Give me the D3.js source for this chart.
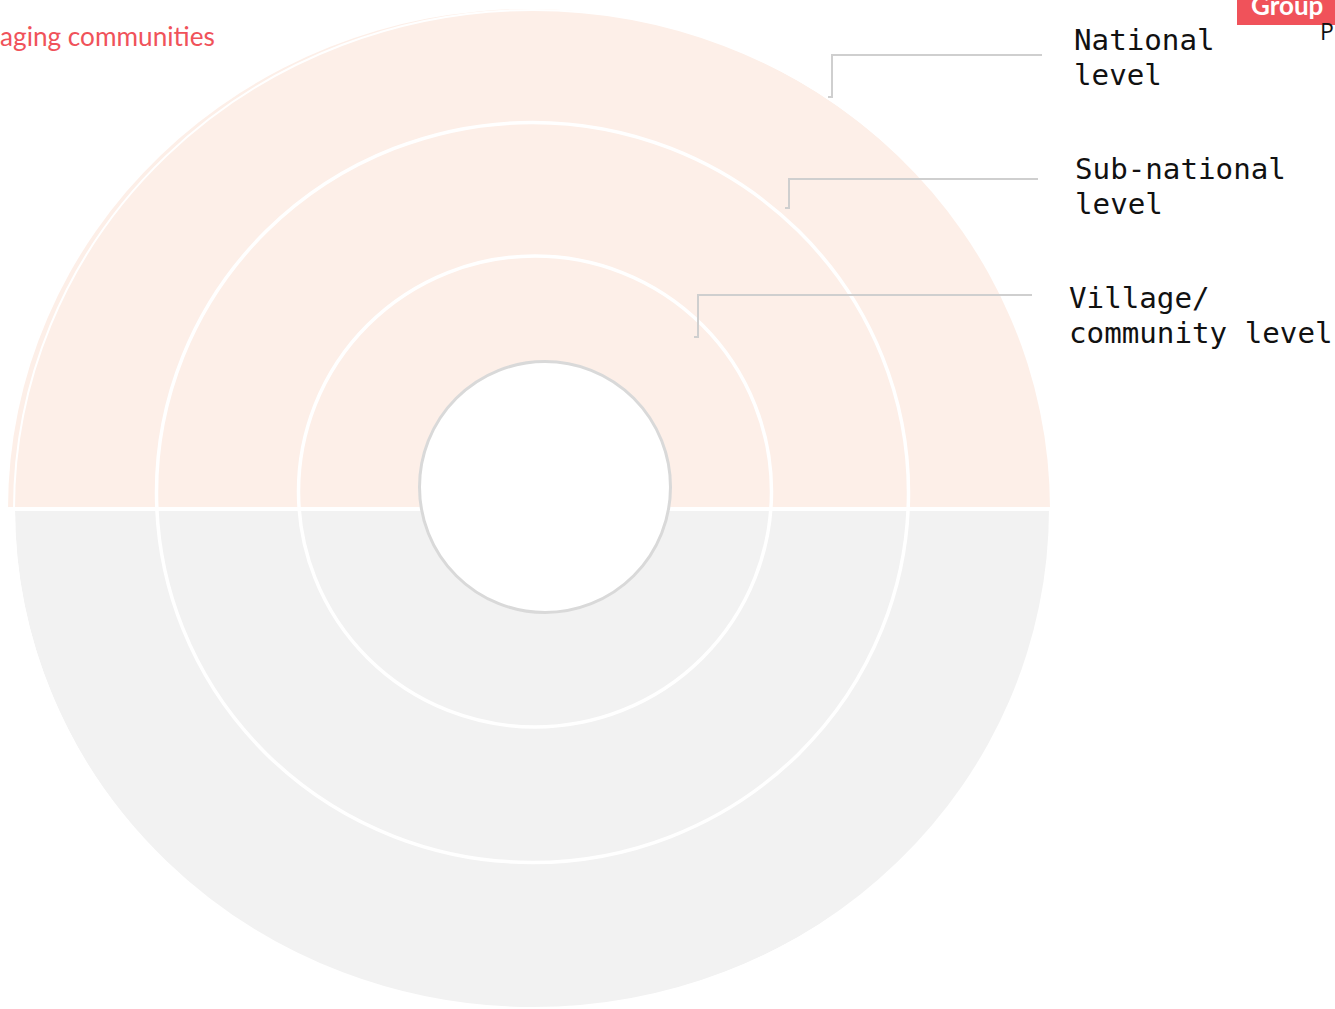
<!DOCTYPE html>
<html>
<head>
<meta charset="utf-8">
<script src="https://cdn.jsdelivr.net/npm/d3@7"></script>
<style>
  html, body { margin: 0; padding: 0; background: #fff; overflow: hidden; }
  svg { display: block; }
</style>
</head>
<body>
<svg id="chart" width="1335" height="1009"></svg>
<script>
// ---- data ----
const levels = ["National level", "Sub-national level", "Village/ community level"];
const labelLines = [["National", "level"], ["Sub-national", "level"], ["Village/", "community level"]];
const halves = ["upper", "lower"];
const halfColors = ["#fdefe8", "#f2f2f2"];
const titleText = "aging communities";
const groupText = "Group";
const sideText = "P";

// ---- drawing ----
const svg = d3.select("#chart");
const RED = "#f0525a";

// outer halves (ellipse halves built from d3.arc, scaled)
const halfScale = d3.scaleOrdinal().domain(halves).range([
  {cx: 529, cy: 509, rx: 521, ry: 500, start: -Math.PI / 2, end: Math.PI / 2},
  {cx: 532, cy: 509, rx: 517, ry: 499, start: Math.PI / 2, end: 3 * Math.PI / 2}
]);
const colorScale = d3.scaleOrdinal().domain(halves).range(halfColors);
const unitArc = d3.arc().innerRadius(0).outerRadius(1);

svg.selectAll("path.half").data(halves).join("path")
  .attr("class", "half")
  .attr("d", h => unitArc({startAngle: halfScale(h).start, endAngle: halfScale(h).end}))
  .attr("transform", h => { const s = halfScale(h); return `translate(${s.cx},${s.cy}) scale(${s.rx},${s.ry})`; })
  .attr("fill", h => colorScale(h));

// faint outer white ring
svg.append("ellipse")
  .attr("cx", 533).attr("cy", 509).attr("rx", 519).attr("ry", 499)
  .attr("fill", "none").attr("stroke", "#fff").attr("stroke-width", 2);

// divider
svg.append("line")
  .attr("x1", 6).attr("x2", 1056).attr("y1", 509).attr("y2", 509)
  .attr("stroke", "#fff").attr("stroke-width", 4);

// inner rings for the sub-national and village levels
const ringScale = d3.scaleOrdinal().domain(levels).range([
  null,
  {cx: 532.5, cy: 492.5, rx: 376, ry: 370},
  {cx: 535, cy: 491.5, rx: 236.5, ry: 235.5}
]);
svg.selectAll("ellipse.ring").data(levels.filter(l => ringScale(l))).join("ellipse")
  .attr("class", "ring")
  .attr("cx", l => ringScale(l).cx).attr("cy", l => ringScale(l).cy)
  .attr("rx", l => ringScale(l).rx).attr("ry", l => ringScale(l).ry)
  .attr("fill", "none").attr("stroke", "#fff").attr("stroke-width", 3.5);

// centre circle
svg.append("circle")
  .attr("cx", 545).attr("cy", 487).attr("r", 125.5)
  .attr("fill", "#fff").attr("stroke", "#d9d9d9").attr("stroke-width", 3);

// leader lines + labels
const leaderScale = d3.scaleOrdinal().domain(levels).range([
  {x0: 832, y0: 55, x1: 1042, y1: 97, tx: 1074, ty: 50},
  {x0: 789, y0: 179, x1: 1038, y1: 208, tx: 1075, ty: 179},
  {x0: 698, y0: 295, x1: 1032, y1: 337, tx: 1069, ty: 308}
]);
const leaderLine = d3.line();
svg.selectAll("path.leader").data(levels).join("path")
  .attr("class", "leader")
  .attr("d", l => {
    const s = leaderScale(l);
    return leaderLine([[s.x1, s.y0], [s.x0, s.y0], [s.x0, s.y1], [s.x0 - 4, s.y1]]);
  })
  .attr("fill", "none").attr("stroke", "#cfcfcf").attr("stroke-width", 2);

const labels = svg.selectAll("text.level").data(levels).join("text")
  .attr("class", "level")
  .attr("x", l => leaderScale(l).tx)
  .attr("y", l => leaderScale(l).ty)
  .attr("font-family", "'DejaVu Sans Mono', 'Liberation Mono', monospace")
  .attr("font-size", 29.2)
  .attr("fill", "#111");
labels.selectAll("tspan").data((l, i) => labelLines[i]).join("tspan")
  .attr("x", function() { return d3.select(this.parentNode).attr("x"); })
  .attr("dy", (d, i) => i === 0 ? 0 : 35)
  .text(d => d);

// title
svg.append("text")
  .attr("x", 0).attr("y", 46)
  .attr("font-family", "Lato, sans-serif")
  .attr("font-size", 26.2)
  .attr("fill", RED)
  .text(titleText);

// group badge
svg.append("rect")
  .attr("x", 1237).attr("y", -10).attr("width", 110).attr("height", 35)
  .attr("fill", RED);
svg.append("text")
  .attr("x", 1251).attr("y", 15)
  .attr("font-family", "Lato, sans-serif")
  .attr("font-weight", "bold")
  .attr("font-size", 26)
  .attr("fill", "#fff")
  .text(groupText);
svg.append("text")
  .attr("x", 1320).attr("y", 40)
  .attr("font-family", "'Open Sans', sans-serif")
  .attr("font-size", 23)
  .attr("fill", "#111")
  .text(sideText);
</script>
</body>
</html>
